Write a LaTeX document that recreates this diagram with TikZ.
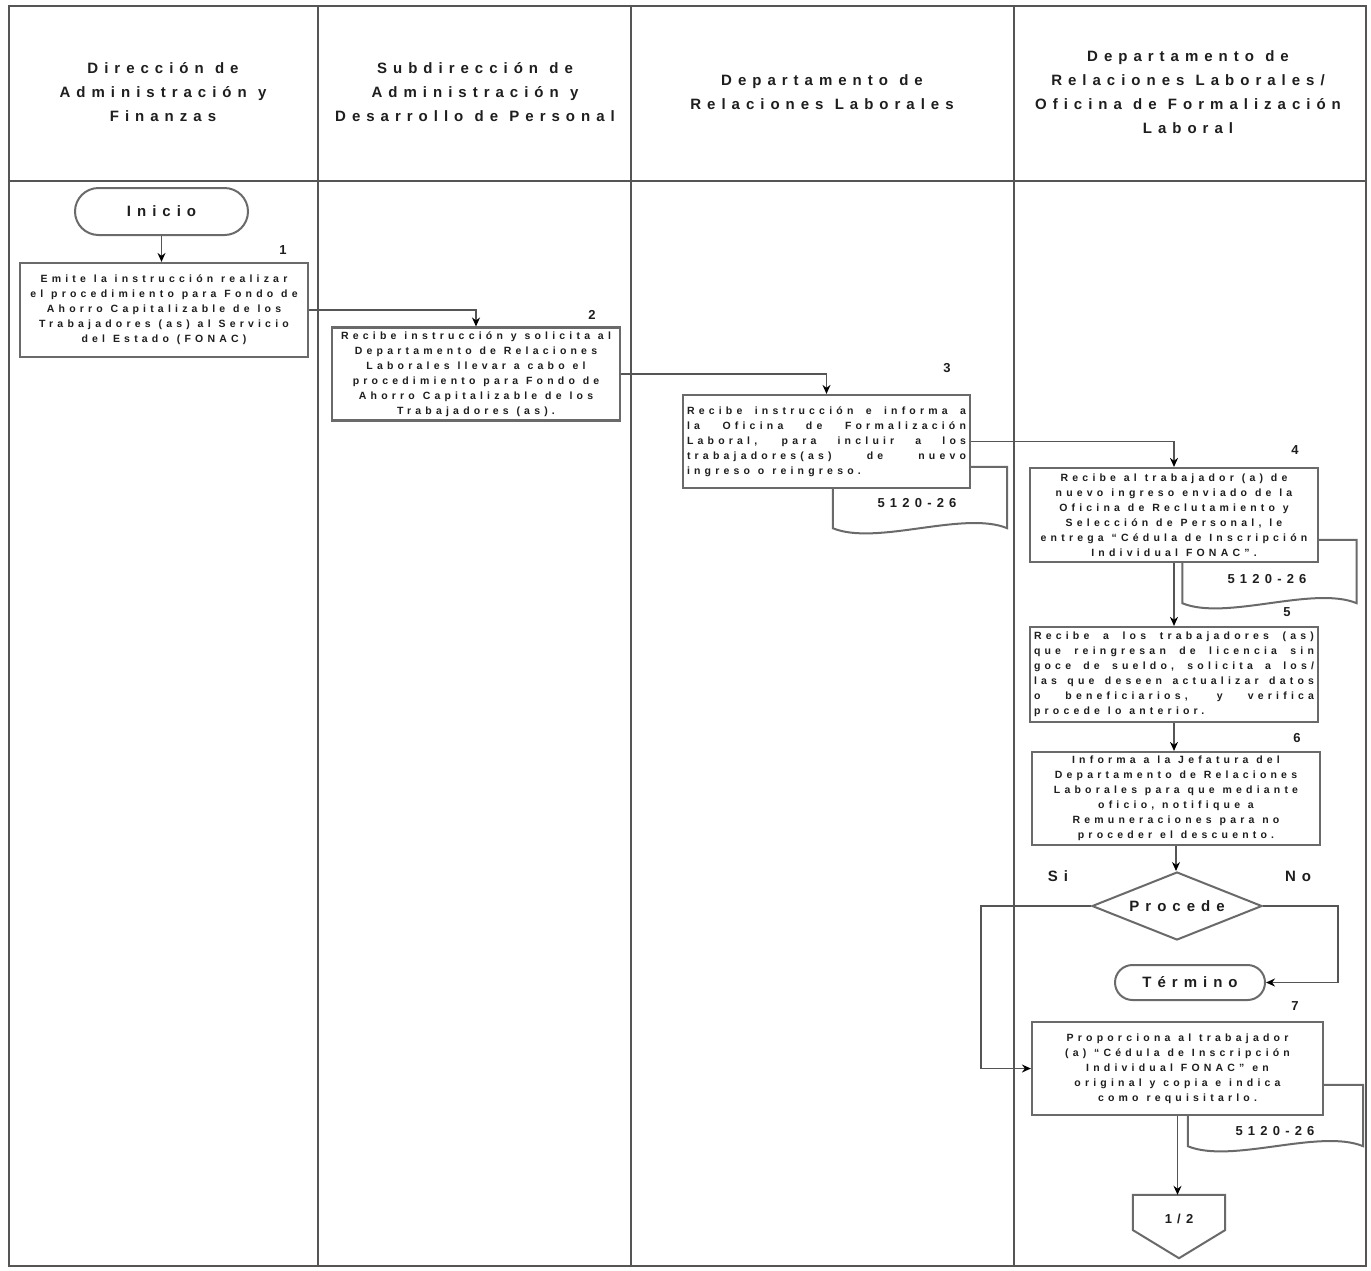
\documentclass[tikz,border=0pt]{standalone}
\usepackage{fontspec}
\setmainfont{Liberation Sans}
\newfontfamily\spaced[LetterSpace=40]{Liberation Sans}
\newcommand\wsp{\spaceskip=0.75em plus 0.6em minus 0.1em\relax}
\usetikzlibrary{shapes.geometric,shapes.misc,arrows.meta,calc}
\definecolor{lineg}{HTML}{555555}
\definecolor{boxg}{HTML}{6A6A6A}
\definecolor{txtg}{HTML}{1E1E1E}
\tikzset{
  lane/.style={draw=lineg, line width=2pt},
  procbox/.style={draw=boxg, line width=2.2pt, fill=white, rectangle, inner sep=4pt,
    text=txtg, font=\spaced\bfseries\fontsize{10.5}{15}\selectfont},
  cbox/.style={procbox, execute at begin node={\centering\wsp}},
  jbox/.style={procbox, align=justify, execute at begin node={\wsp}},
  termbox/.style={draw=boxg, line width=2pt, fill=white, rounded rectangle, inner sep=0pt,
    text=txtg, font=\spaced\bfseries\fontsize{15}{18}\selectfont},
  decbox/.style={draw=boxg, line width=2pt, fill=white, diamond, inner sep=0pt, aspect=2.5,
    text=txtg, font=\spaced\bfseries\fontsize{15}{18}\selectfont},
  hdr/.style={align=center, text=txtg, font=\spaced\bfseries\fontsize{15}{24}\selectfont\wsp},
  numlbl/.style={text=txtg, font=\bfseries\fontsize{13}{15}\selectfont, inner sep=0pt},
  branch/.style={text=txtg, font=\spaced\bfseries\fontsize{15}{18}\selectfont, inner sep=0pt},
  docarea/.style={rectangle, draw=none, inner sep=0pt},
  docline/.style={draw=boxg, line width=2pt, fill=white},
  doctext/.style={text=txtg, font=\spaced\bfseries\fontsize{13}{15}\selectfont, inner sep=0pt},
  arr/.style={draw=lineg, line width=1.8pt, -{Stealth[length=9pt,width=8pt,black]}},
}
\newcommand\docoutline[1]{%
  \draw[docline] (#1.north west) -- (#1.north east) -- (#1.south east)
    .. controls ($(#1.south east)!0.5!(#1.south)+(0,-18)$) and ($(#1.south west)!0.5!(#1.south)+(0,18)$) .. (#1.south west) -- cycle;}
\begin{document}
\begin{tikzpicture}[x=1pt,y=-1pt]
\useasboundingbox (0,0) rectangle (1371,1270);
\fill[white] (0,0) rectangle (1371,1270);
% lanes
\draw[lane] (9,6) rectangle (1366,1266);
\draw[lane] (9,181) -- (1366,181);
\draw[lane] (318,6) -- (318,1266);
\draw[lane] (631,6) -- (631,1266);
\draw[lane] (1014,6) -- (1014,1266);
% headers
\node[hdr] (h1) at (163,92) {Dirección de\\Administración y\\Finanzas};
\node[hdr] (h2) at (475,92) {Subdirección de\\Administración y\\Desarrollo de Personal};
\node[hdr] (h3) at (822,92) {Departamento de\\Relaciones Laborales};
\node[hdr] (h4) at (1188,92) {Departamento de\\Relaciones Laborales/\\Oficina de Formalización\\Laboral};
% documents
\node[docarea, minimum width=174pt, minimum height=61pt] (d3) at (920,497.5) {};
\docoutline{d3}
\node[doctext] (d3t) at (917,503) {5120-26};
\node[docarea, minimum width=174pt, minimum height=63pt] (d4) at (1269.5,571.5) {};
\docoutline{d4}
\node[doctext] (d4t) at (1267,579) {5120-26};
\node[docarea, minimum width=175pt, minimum height=61pt] (d7) at (1275.5,1115.5) {};
\docoutline{d7}
\node[doctext] (d7t) at (1275,1131) {5120-26};
% start
\node[termbox, minimum width=173pt, minimum height=47pt] (ini) at (161.5,211.5) {Inicio};
% process boxes
\node[cbox, text width=280pt, minimum height=94pt] (b1) at (164,310)
  {Emite la instrucción realizar\\el procedimiento para Fondo de\\Ahorro Capitalizable de los\\Trabajadores (as) al Servicio\\del Estado (FONAC)};
\node[cbox, text width=280pt, minimum height=92pt] (b2) at (476,374)
  {Recibe instrucción y solicita al\\Departamento de Relaciones\\Laborales llevar a cabo el\\procedimiento para Fondo de\\Ahorro Capitalizable de los\\Trabajadores (as).};
\node[jbox, text width=279pt, minimum height=93pt] (b3) at (826.5,441.5)
  {Recibe instrucción e informa a\linebreak la Oficina de Formalización\linebreak Laboral, para incluir a los\linebreak trabajadores(as) de nuevo\linebreak ingreso o reingreso.};
\node[cbox, text width=280pt, minimum height=94pt] (b4) at (1174,515)
  {Recibe al trabajador (a) de\\nuevo ingreso enviado de la\\Oficina de Reclutamiento y\\Selección de Personal, le\\entrega “Cédula de Inscripción\\Individual FONAC”.};
\node[jbox, text width=280pt, minimum height=95pt] (b5) at (1174,674.5)
  {Recibe a los trabajadores (as)\linebreak que reingresan de licencia sin\linebreak goce de sueldo, solicita a los/\linebreak las que deseen actualizar datos\linebreak o beneficiarios, y verifica\linebreak procede lo anterior.};
\node[cbox, text width=280pt, minimum height=93pt] (b6) at (1176,798.5)
  {Informa a la Jefatura del\\Departamento de Relaciones\\Laborales para que mediante\\oficio, notifique a\\Remuneraciones para no\\proceder el descuento.};
\node[decbox, minimum width=170pt, minimum height=68pt] (dec) at (1177,906) {Procede};
\node[termbox, minimum width=150pt, minimum height=35pt] (fin) at (1190,982.5) {Término};
\node[cbox, text width=283pt, minimum height=93pt] (b7) at (1177.5,1068.5)
  {Proporciona al trabajador\\(a) “Cédula de Inscripción\\Individual FONAC” en\\original y copia e indica\\como requisitarlo.};
\node[docarea, minimum width=92pt, minimum height=63pt] (off) at (1179,1226.5) {};
\draw[docline] (off.north west) -- (off.north east) -- ($(off.north east)!0.556!(off.south east)$)
   -- (off.south) -- ($(off.north west)!0.556!(off.south west)$) -- cycle;
\node[doctext] (offt) at (1179,1219) {1/2};
% numbers
\node[numlbl] (n1) at (283,250) {1};
\node[numlbl] (n2) at (592,315) {2};
\node[numlbl] (n3) at (947,368) {3};
\node[numlbl] (n4) at (1295,450) {4};
\node[numlbl] (n5) at (1287,612) {5};
\node[numlbl] (n6) at (1297,738) {6};
\node[numlbl] (n7) at (1295,1006) {7};
\node[branch] (si) at (1058,876) {Si};
\node[branch] (no) at (1298,876) {No};
% connectors
\draw[arr] (ini.south) -- (ini.south |- b1.north);
\draw[arr] (b1.east) -| (b2.north);
\draw[arr] (b2.east) -| (b3.north);
\draw[arr] (b3.east) -| (b4.north);
\draw[arr] (b4.south) -- (b4.south |- b5.north);
\draw[arr] (b5.south) -- (b5.south |- b6.north);
\draw[arr] (b6.south) -- (b6.south |- dec.north);
\coordinate (sik) at (981,906);
\coordinate (nok) at (1338,906);
\draw[arr] (dec.west) -- (sik) |- (b7.west);
\draw[arr] (dec.east) -- (nok) |- (fin.east);
\draw[arr] (b7.south) -- (b7.south |- off.north);
\end{tikzpicture}
\end{document}
